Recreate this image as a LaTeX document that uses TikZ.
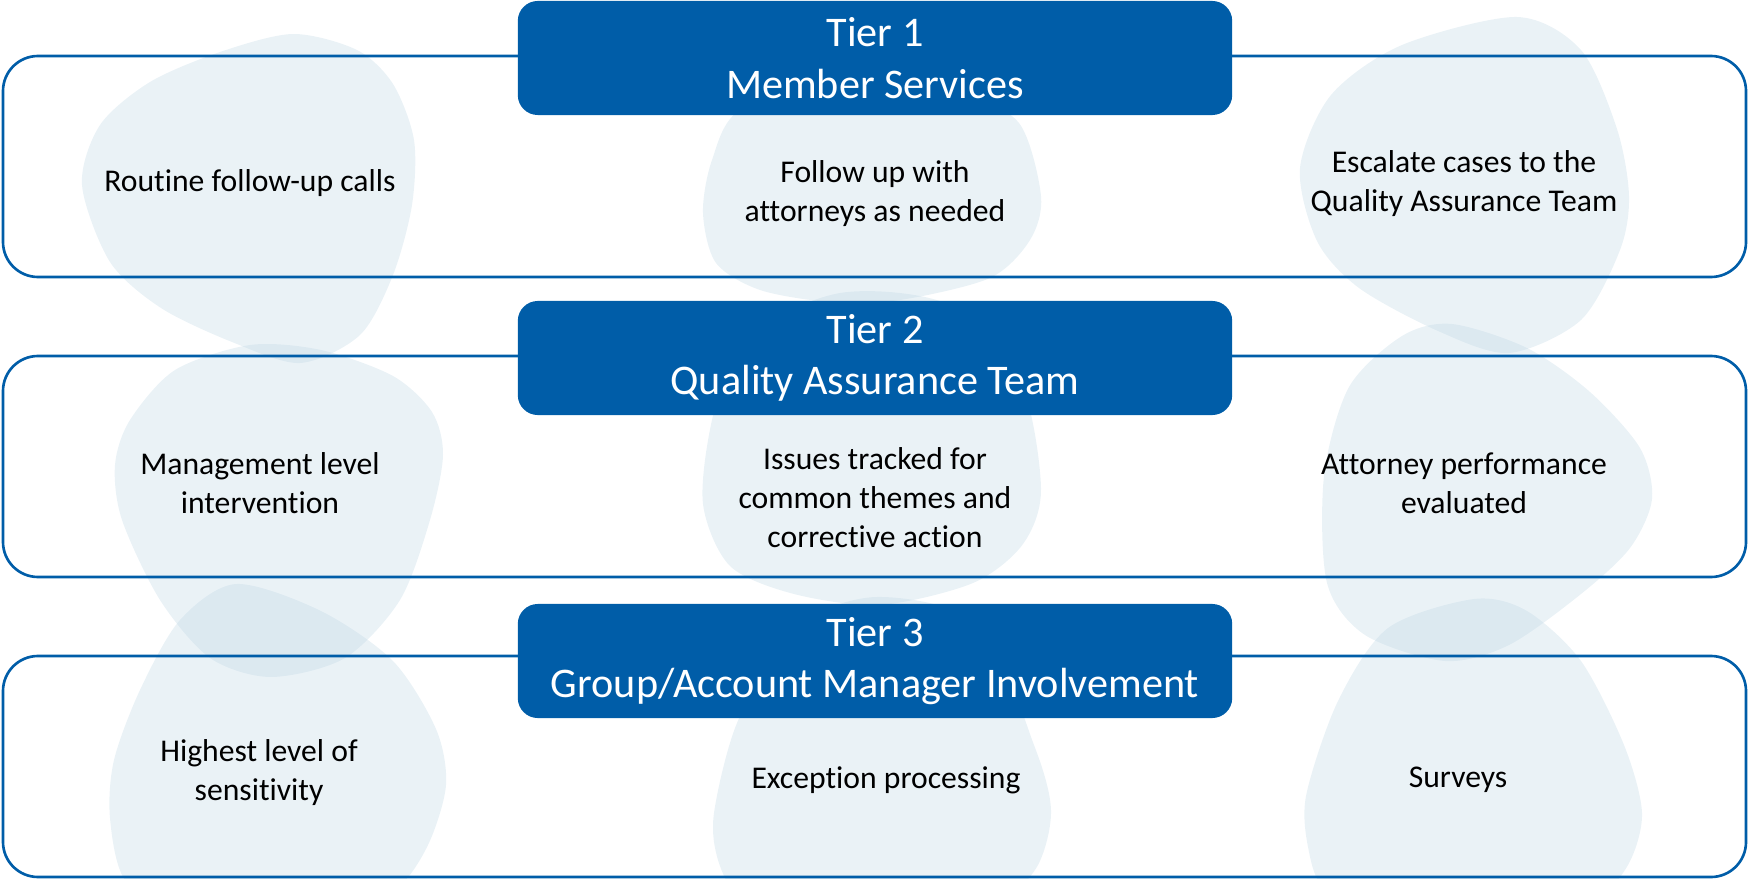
\documentclass[tikz,border=0pt]{standalone}
\usepackage{fontspec}
\setmainfont{Carlito}[Ligatures=NoCommon]
\definecolor{tierblue}{RGB}{0,93,168}
\definecolor{blobblue}{RGB}{186,212,226}
\tikzset{
	tierbox/.style={fill=tierblue, rounded corners=0.2cm, minimum width=7.14cm, minimum height=1.14cm, inner sep=0pt, text=white, align=center, font=\fontsize{12}{14.6}\selectfont},
	panel/.style={draw=tierblue, line width=0.75pt, rounded corners=0.35cm},
	blob/.style={fill=blobblue, fill opacity=0.3},
	item/.style={align=center, font=\fontsize{9}{11.1}\selectfont}
}

\begin{document}
\begin{tikzpicture}[x=0.01cm,y=-0.01cm]
	\path [use as bounding box, clip] (0,0) rectangle (1748,879);
	
	% blobs behind the panels
	\fill [blob] plot [smooth cycle] coordinates {(293,34) (357,50) (393,84) (414,140) (412,205) (393,275) (360,335) (300,363) (232,342) (161,308) (110,262) (82,185) (100,125) (150,82) (220,52)};
	\fill [blob] plot [smooth cycle] coordinates {(250,345) (321,350) (393,376) (432,412) (443,455) (430,520) (400,600) (345,658) (271,677) (210,658) (160,600) (122,520) (115,465) (130,420) (175,370)};
	\fill [blob] plot [smooth cycle] coordinates {(236,584) (321,611) (393,661) (436,729) (446,785) (428,845) (395,890) (330,915) (180,915) (125,880) (110,818) (114,760) (140,690) (180,620)};
	\fill [blob] plot [smooth cycle] coordinates {(840,80) (960,95) (1019,123) (1041,196) (1030,240) (990,278) (900,300) (830,302) (760,290) (716,263) (703,213) (712,160) (740,110)};
	\fill [blob] plot [smooth cycle] coordinates {(840,293) (950,305) (1020,380) (1041,488) (1023,544) (973,583) (880,605) (794,594) (730,566) (703,504) (712,420) (740,340)};
	\fill [blob] plot [smooth cycle] coordinates {(876,597) (980,625) (1034,745) (1051,810) (1038,865) (1000,905) (950,920) (790,920) (740,900) (718,860) (714,813) (737,723) (790,630)};
	\fill [blob] plot [smooth cycle] coordinates {(1517,17) (1581,50) (1617,129) (1629,196) (1620,250) (1581,320) (1509,353) (1438,331) (1359,288) (1317,241) (1300,168) (1331,95) (1402,45)};
	\fill [blob] plot [smooth cycle] coordinates {(1452,324) (1527,348) (1590,392) (1640,448) (1652,499) (1630,548) (1581,594) (1509,645) (1445,661) (1365,635) (1327,583) (1324,476) (1349,387) (1402,336)};
	\fill [blob] plot [smooth cycle] coordinates {(1474,599) (1527,611) (1581,661) (1624,745) (1642,813) (1628,865) (1590,905) (1520,920) (1380,920) (1325,890) (1309,852) (1306,796) (1338,701) (1388,628)};
	
	% panels
	\draw [panel] (3,56) rectangle (1746,277);
	\draw [panel] (3,356) rectangle (1746,577);
	\draw [panel] (3,656) rectangle (1746,877);
	
	% tier headers
	\node [tierbox] (tier1) at (875,58) {Tier 1\\Member Services};
	\node [tierbox] (tier2) at (875,358) {Tier 2\\Quality Assurance Team};
	\node [tierbox] (tier3) at (875,661) {Tier 3\\Group/Account Manager Involvement};
	
	% tier 1 items
	\node [item] (routine) at (250,183) {Routine follow-up calls};
	\node [item] (followup) at (875,194) {Follow up with\\attorneys as needed};
	\node [item] (escalate) at (1464,184) {Escalate cases to the\\Quality Assurance Team};
	
	% tier 2 items
	\node [item] (mgmt) at (260,483) {Management level\\intervention};
	\node [item] (issues) at (875,498) {Issues tracked for\\common themes and\\corrective action};
	\node [item] (perf) at (1464,483) {Attorney performance\\evaluated};
	
	% tier 3 items
	\node [item] (highest) at (259,773) {Highest level of\\sensitivity};
	\node [item] (exception) at (886,780) {Exception processing};
	\node [item] (surveys) at (1458,780) {Surveys};
\end{tikzpicture}
\end{document}
